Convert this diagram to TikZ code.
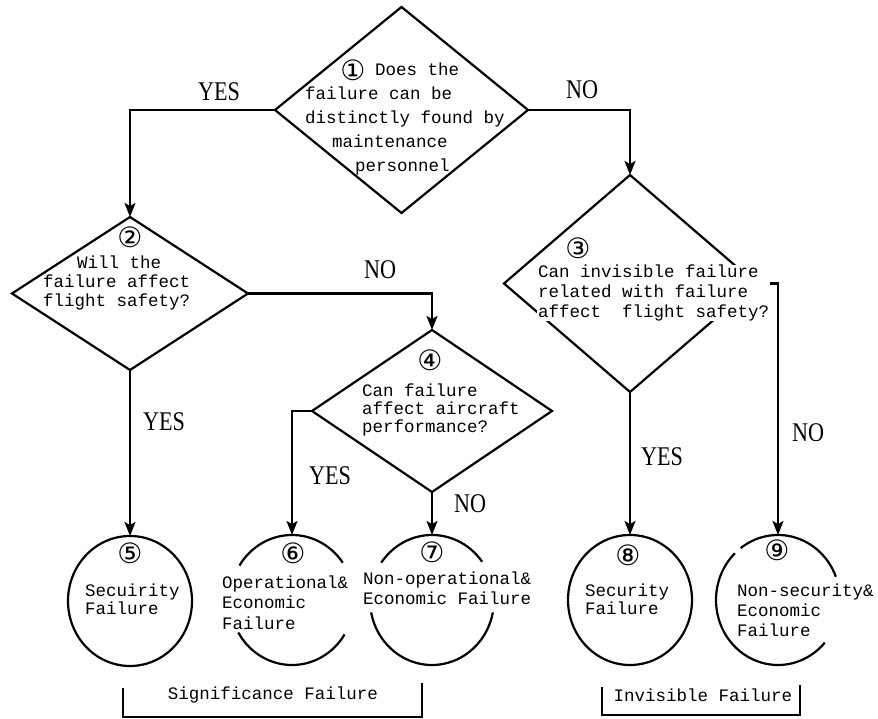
\documentclass[tikz,border=0pt]{standalone}
\usepackage{fontspec}
\setmonofont{Liberation Mono}
\newfontfamily\cnumfont{DejaVu Sans}
\newfontfamily\yesnofont{Liberation Serif}
\usetikzlibrary{shapes.geometric,arrows.meta}
% condensed branch labels
\newcommand\ynlabel[1]{\scalebox{0.82}[1]{#1}}

\begin{document}
\begin{tikzpicture}[x=1pt,y=1pt,
  every node/.style={inner sep=0pt, outer sep=0pt},
  line/.style={line width=2.2pt, line join=miter},
  flow/.style={line, -{Stealth[length=14pt,width=11pt,inset=3pt]}},
  decision/.style={diamond, draw, line width=2.2pt},
  endstate/.style={ellipse, minimum width=124pt, minimum height=130pt},
  qtext/.style={font=\ttfamily\fontsize{17.5}{#1}\selectfont, align=left, anchor=west},
  cnum/.style={font=\cnumfont\fontsize{28}{28}\selectfont},
  yn/.style={font=\yesnofont\fontsize{27}{27}\selectfont},
  brtext/.style={font=\ttfamily\fontsize{17.5}{20}\selectfont}
]
\useasboundingbox (0,0) rectangle (878,719);

% decision diamonds
\node[decision, minimum width=253pt, minimum height=206pt] (d1) at (401.5,609) {};
\node[decision, minimum width=236pt, minimum height=153pt] (d2) at (130,425.5) {};
\node[decision, minimum width=252pt, minimum height=217pt] (d3) at (630,435.5) {};
\node[decision, minimum width=240pt, minimum height=162pt] (d4) at (432,308) {};

% outcome circles
\node[endstate, draw, line width=2.2pt] (c5) at (130,118) {};
\node[endstate] (c6) at (292,119) {};
\node[endstate] (c7) at (432,119) {};
\node[endstate, draw, line width=2.2pt] (c8) at (630,119) {};
\node[endstate] (c9) at (778,119) {};

% open circles around the longer texts
\draw[line] ([shift={(35:62 and 65)}]c6.center) arc[start angle=35, end angle=148, x radius=62, y radius=65];
\draw[line] ([shift={(210:62 and 65)}]c6.center) arc[start angle=210, end angle=328, x radius=62, y radius=65];
\draw[line] ([shift={(36:62 and 65)}]c7.center) arc[start angle=36, end angle=145, x radius=62, y radius=65];
\draw[line] ([shift={(191:62 and 65)}]c7.center) arc[start angle=191, end angle=349, x radius=62, y radius=65];
\draw[line] ([shift={(21:62 and 65)}]c9.center) arc[start angle=21, end angle=127, x radius=62, y radius=65];
\draw[line] ([shift={(134:62 and 65)}]c9.center) arc[start angle=134, end angle=319, x radius=62, y radius=65];

% connectors
\draw[flow] (d1.west) -| (d2.north);
\draw[flow] (d1.east) -| (d3.north);
\draw[flow] (d2.east) -| (d4.north);
\draw[flow] (d2.south) -- (c5.north);
\draw[flow] (d4.west) -| (c6.north);
\draw[flow] (d4.south) -- (c7.north);
\draw[flow] (d3.south) -- (c8.north);
\draw[flow] (d3.east) -| (c9.north);

% branch labels
\node[yn] (l1) at (219,627) {\ynlabel{YES}};
\node[yn] (l2) at (582,629) {\ynlabel{NO}};
\node[yn] (l3) at (380,449) {\ynlabel{NO}};
\node[yn] (l4) at (164,297) {\ynlabel{YES}};
\node[yn] (l5) at (330,243) {\ynlabel{YES}};
\node[yn] (l6) at (470,215) {\ynlabel{NO}};
\node[yn] (l7) at (662,262) {\ynlabel{YES}};
\node[yn] (l8) at (808,286) {\ynlabel{NO}};

% step numbers
\node[cnum] (n1) at (353,649) {①};
\node[cnum] (n2) at (130,482) {②};
\node[cnum] (n3) at (578,471) {③};
\node[cnum] (n4) at (430,359) {④};
\node[cnum] (n5) at (130,166) {⑤};
\node[cnum] (n6) at (293,166) {⑥};
\node[cnum] (n7) at (432,167) {⑦};
\node[cnum] (n8) at (628,164) {⑧};
\node[cnum] (n9) at (777,169) {⑨};

% question texts
\node[qtext=24] (t1) at (305,600.5) {\hspace*{70pt}Does the\\failure can be\\distinctly found by\\\hspace*{27pt}maintenance\\\hspace*{50pt}personnel};
\node[qtext=19] (t2) at (43,436) {\hspace*{34pt}Will the\\failure affect\\flight safety?};
\node[qtext=20, fill=white, inner xsep=1pt] (t3) at (537,426) {Can invisible failure\\related with failure\\affect\ \ flight safety?};
\node[qtext=18] (t4) at (362,309) {Can failure\\affect aircraft\\performance?};

% outcome texts
\node[qtext=18] (t5) at (85,120) {Secuirity\\Failure};
\node[qtext=20.5] (t6) at (222,116.5) {Operational\&\\Economic\\Failure};
\node[qtext=20] (t7) at (363,131) {Non-operational\&\\Economic Failure};
\node[qtext=18] (t8) at (585,120) {Security\\Failure};
\node[qtext=20] (t9) at (737,109) {Non-security\&\\Economic\\Failure};

% group brackets
\node[brtext] (g1) at (273,24) {Significance Failure};
\node[brtext] (g2) at (703,24) {Invisible Failure};
\draw[line] (123,31) |- (422,2) -- (422,36);
\draw[line] (602,32) |- (800,4) -- (800,34);
\end{tikzpicture}
\end{document}
